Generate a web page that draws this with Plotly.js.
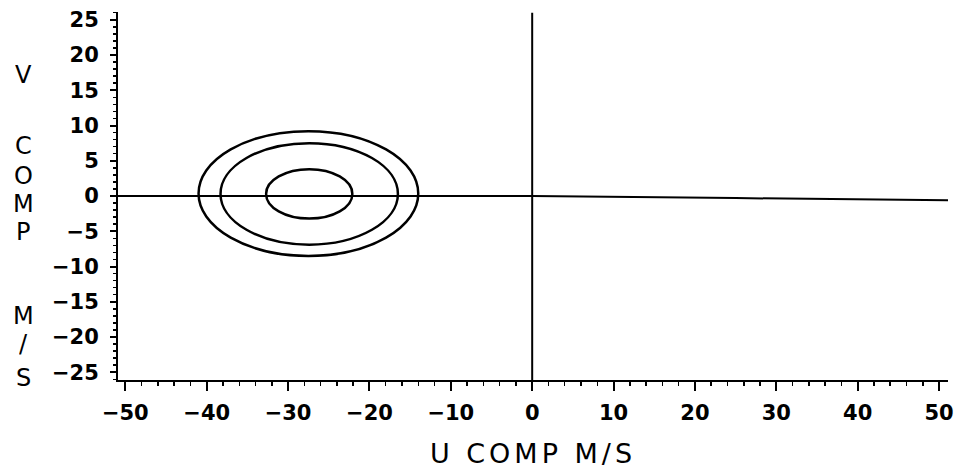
<!DOCTYPE html>
<html>
<head>
<meta charset="utf-8">
<script src="https://cdn.plot.ly/plotly-3.0.1.min.js"></script>
<style>html,body{margin:0;padding:0;background:#fff;}#chart{width:958px;height:474px;}</style>
</head>
<body>
<div id="chart"></div>
<script>
// ---- data ----
var xTickVals = [-50, -40, -30, -20, -10, 0, 10, 20, 30, 40, 50];
var yTickVals = [-25, -20, -15, -10, -5, 0, 5, 10, 15, 20, 25];
// ellipse contours: centre (u, v) and half-widths (du, dv)
var ellCenterU = [-27.5, -27.4, -27.4];
var ellCenterV = [0.35, 0.3, 0.3];
var ellHalfU = [13.5, 10.9, 5.3];
var ellHalfV = [8.85, 7.2, 3.5];
// horizontal reference line (v along u)
var hLineU = [-50.9, 0, 25, 51.1];
var hLineV = [0, 0, -0.3, -0.6];
// vertical reference line (u = 0)
var vLineU = [0, 0];
var vLineV = [-26.1, 26.0];
var xTitle = 'U COMP M/S';
var yTitleLetters = ['V', 'C', 'O', 'M', 'P', 'M', '/', 'S'];

// ---- layout (pixel positions of y-title letters) ----
var H = 474, mt = 12, mb = 94, ml = 118, plotW = 830;
var letterPx = [75, 146, 176, 204, 232, 316, 344, 378];
var plotH = H - mt - mb;

var FONT = 'DejaVu Sans, Liberation Sans, Arial, sans-serif';
var traces = [
  {x: hLineU, y: hLineV, mode: 'lines', line: {color: '#000', width: 2}, cliponaxis: false, hoverinfo: 'skip'},
  {x: vLineU, y: vLineV, mode: 'lines', line: {color: '#000', width: 2}, cliponaxis: false, hoverinfo: 'skip'}
];
var shapes = ellCenterU.map(function (cu, i) {
  return {type: 'circle', xref: 'x', yref: 'y',
    x0: cu - ellHalfU[i], x1: cu + ellHalfU[i],
    y0: ellCenterV[i] - ellHalfV[i], y1: ellCenterV[i] + ellHalfV[i],
    line: {color: '#000', width: 2.5}};
});
var annotations = yTitleLetters.map(function (ch, i) {
  return {text: ch, xref: 'paper', yref: 'paper', showarrow: false,
    x: (23 - ml) / plotW, xanchor: 'center',
    y: (H - mb - letterPx[i]) / plotH, yanchor: 'middle',
    height: 24, valign: 'middle', borderpad: 0,
    font: {family: FONT, size: 24, color: '#000'}};
});

var layout = {
  width: 958, height: 474,
  margin: {l: ml, r: 10, t: mt, b: mb},
  paper_bgcolor: '#fff', plot_bgcolor: '#fff',
  showlegend: false,
  font: {family: FONT, color: '#000'},
  xaxis: {
    range: [-50.9, 51.1], tickmode: 'array', tickvals: xTickVals,
    ticks: 'outside', ticklen: 9, tickwidth: 2, tickcolor: '#000',
    minor: {dtick: 2, ticks: 'outside', ticklen: 4, tickwidth: 1.5, tickcolor: '#000'},
    showline: true, linewidth: 2, linecolor: '#000',
    showgrid: false, zeroline: false,
    tickfont: {family: FONT, size: 21, color: '#000', weight: 'bold'},
    ticklabelstandoff: 4,
    title: {text: xTitle, font: {family: FONT, size: 27, color: '#000'}, standoff: 20}
  },
  yaxis: {
    range: [-26.1, 26.1], tickmode: 'array', tickvals: yTickVals,
    ticks: 'outside', ticklen: 6, tickwidth: 2, tickcolor: '#000',
    minor: {dtick: 1, ticks: 'outside', ticklen: 3, tickwidth: 1.5, tickcolor: '#000'},
    showline: true, linewidth: 2, linecolor: '#000',
    showgrid: false, zeroline: false,
    tickfont: {family: FONT, size: 21, color: '#000', weight: 'bold'},
    ticklabelstandoff: 7
  },
  shapes: shapes,
  annotations: annotations
};
Plotly.newPlot('chart', traces, layout, {staticPlot: true, displayModeBar: false}).then(function (gd) {
  var t = gd.querySelector('.g-xtitle text');
  if (t) { t.style.letterSpacing = '4px'; }
});
</script>
</body>
</html>
